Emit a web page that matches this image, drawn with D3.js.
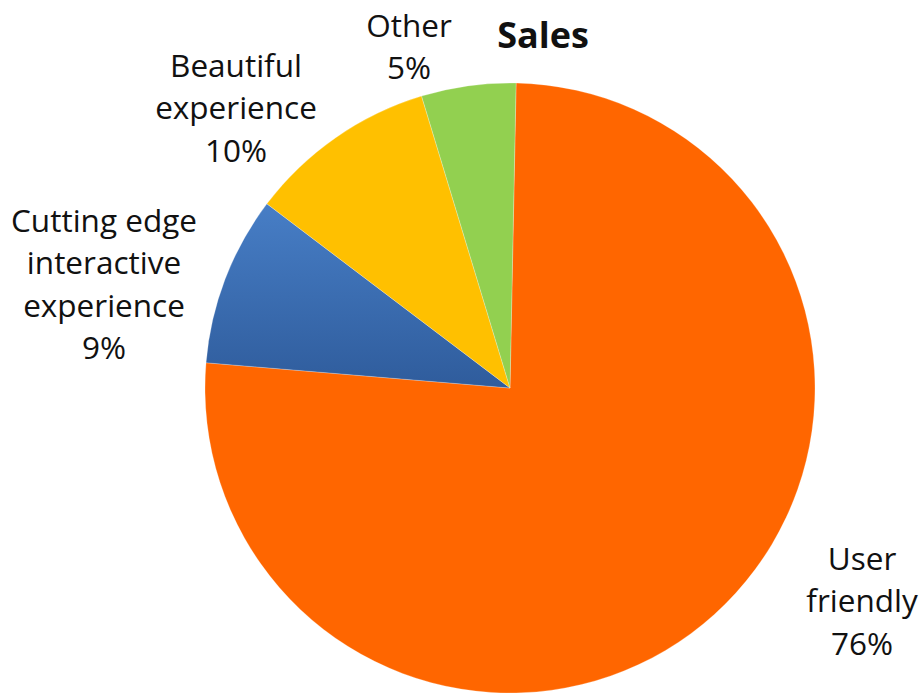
<!DOCTYPE html>
<html>
<head>
<meta charset="utf-8">
<script src="https://cdn.jsdelivr.net/npm/d3@7"></script>
<style>
  html, body { margin: 0; padding: 0; background: #ffffff; }
  svg text { font-family: "Open Sans", "Noto Sans", sans-serif; fill: #111; }
</style>
</head>
<body>
<svg id="chart" width="923" height="697"></svg>
<script>
// Sales breakdown by category
const categories = ["User friendly", "Cutting edge interactive experience", "Beautiful experience", "Other"];
const shares = [76, 9, 10, 5];
const colors = ["#ff6600", "#3a6db2", "#ffc000", "#92d050"];
// Label lines and the first-line baseline position of each label block
const labelLines = [
  ["User", "friendly", "76%"],
  ["Cutting edge", "interactive", "experience", "9%"],
  ["Beautiful", "experience", "10%"],
  ["Other", "5%"]
];
const labelAnchors = [[862, 570], [104, 232], [236, 77], [409, 37]];

const svg = d3.select("#chart");
const cx = 510, cy = 388, r = 305;
const rotation = 0.02;

const defs = svg.append("defs");
const grad = defs.append("linearGradient")
  .attr("id", "blueShade").attr("x1", 0).attr("y1", 0).attr("x2", 0).attr("y2", 1);
grad.append("stop").attr("offset", "0%").attr("stop-color", "#477ec6");
grad.append("stop").attr("offset", "100%").attr("stop-color", "#2f5c9c");

const data = categories.map((c, i) => ({ name: c, value: shares[i], color: colors[i] }));

const pie = d3.pie().value(d => d.value).sort(null)
  .startAngle(rotation).endAngle(2 * Math.PI + rotation);
const arc = d3.arc().innerRadius(0).outerRadius(r);

const g = svg.append("g").attr("transform", `translate(${cx},${cy})`);
g.selectAll("path")
  .data(pie(data))
  .join("path")
  .attr("d", arc)
  .attr("fill", (d, i) => i === 1 ? "url(#blueShade)" : d.data.color)
  .attr("stroke", "rgba(255,255,255,0.3)")
  .attr("stroke-width", 0.8);

// Category labels
const lineGap = 42.3;
labelLines.forEach((lines, i) => {
  const [x, y] = labelAnchors[i];
  const t = svg.append("text")
    .attr("text-anchor", "middle")
    .attr("font-size", 31.5);
  lines.forEach((ln, j) => {
    t.append("tspan")
      .attr("x", x)
      .attr("y", y + j * lineGap)
      .text(ln);
  });
});

// Title
svg.append("text")
  .attr("x", 543).attr("y", 48)
  .attr("text-anchor", "middle")
  .attr("font-size", 36).attr("font-weight", "bold")
  .text("Sales");
</script>
</body>
</html>
